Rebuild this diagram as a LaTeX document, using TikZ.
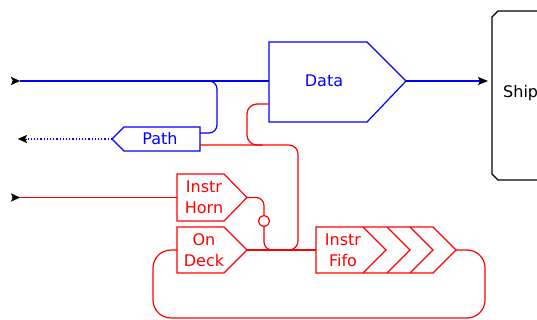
\documentclass[tikz,border=0pt]{standalone}
\usepackage{fontspec}
\setmainfont{DejaVu Sans}
\usetikzlibrary{arrows.meta}
\definecolor{wireblue}{RGB}{0,0,255}
\definecolor{wirered}{RGB}{255,0,0}
\tikzset{
  bus/.style={line width=1.2pt, draw=wireblue},
  ctl/.style={line width=1.2pt, draw=wirered},
  label/.style={font=\fontsize{16}{21}\selectfont, align=center, inner sep=0pt},
  outtip/.style={-{Stealth[length=10pt, width=8pt, inset=2pt, color=black]}},
  marker/.style={line width=0.1pt, -{Stealth[length=9pt, width=8pt, inset=2pt]}, black},
}
\begin{document}
\begin{tikzpicture}[x=1pt,y=-1pt]
            \useasboundingbox (0,0) rectangle (537,320);
            % blocks
            \draw[bus] (269,42) -- (367,42) -- (406,81) -- (367,122) -- (269,122) -- cycle;
            \node[label, text=wireblue] (data) at (324,81) {Data};
            \draw[line width=1.2pt] (545,11) -- (498,11) -- (492,17) -- (492,174) -- (498,180) -- (545,180);
            \node[label, anchor=base west] (ship) at (503,98) {Ship};
            \draw[bus] (200,127) -- (124,127) -- (112,139) -- (124,151) -- (200,151) -- cycle;
            \node[label, text=wireblue] (path) at (160,139) {Path};
            \draw[ctl] (177,174) -- (224,174) -- (247,197.5) -- (224,221) -- (177,221) -- cycle;
            \node[label, text=wirered] (horn) at (204,197.5) {Instr\\Horn};
            \draw[ctl] (177,227) -- (224,227) -- (247,250) -- (224,273) -- (177,273) -- cycle;
            \node[label, text=wirered] (deck) at (204,250) {On\\Deck};
            \draw[ctl] (316,227) -- (433,227) -- (456,250) -- (433,273) -- (316,273) -- cycle;
            \foreach \a in {363,387,410}
                \draw[ctl] (\a,227) -- (\a+23,250) -- (\a,273);
            \node[label, text=wirered] (fifo) at (343,250) {Instr\\Fifo};
            \node[circle, ctl, minimum size=11pt, inner sep=0pt] (bubble) at (264,221) {};

            % ports
            \coordinate (datain) at (269,81);
            \coordinate (dataret) at (269,104);
            \coordinate (dataout) at (406,81);
            \coordinate (shipin) at (488,81);
            \coordinate (pathin) at (200,133);
            \coordinate (pathret) at (200,145);
            \coordinate (pathout) at (112,139);
            \coordinate (hornin) at (177,197.5);
            \coordinate (hornout) at (247,197.5);
            \coordinate (deckin) at (177,250);
            \coordinate (deckout) at (247,250);
            \coordinate (fifoin) at (316,250);
            \coordinate (fifoout) at (456,250);
            \coordinate (busmark) at (12,81);
            \coordinate (busin) at (20,81);
            \coordinate (busout) at (27,139);
            \coordinate (busend) at (18,139);
            \coordinate (hornmark) at (12,197.5);
            \coordinate (hornsrc) at (20,197.5);
            \coordinate (split) at (195,81);

            % wires
            \draw[marker] (busmark) -- (busin);
            \draw[bus] (busin) -- (datain);
            \draw[bus, outtip] (dataout) -- (shipin);
            \draw[bus, rounded corners=8pt] (split) -- (217,81) -- (217,133) -- (pathin);
            \draw[bus, dotted] (pathout) -- (busout);
            \draw[marker] (busout) -- (busend);
            \draw[marker] (hornmark) -- (hornsrc);
            \draw[ctl] (hornsrc) -- (hornin);
            \draw[ctl, rounded corners=10pt] (dataret) -- (247,104) -- (247,145) -- (262,145);
            \draw[ctl, rounded corners=9pt] (pathret) -- (298,145) -- (298,250) -- (280,250);
            \draw[ctl, rounded corners=8pt] (hornout) -- (264,197.5) -- (bubble.north);
            \draw[ctl, rounded corners=8pt] (bubble.south) -- (264,250) -- (280,250);
            \draw[ctl] (deckout) -- (fifoin);
            \draw[ctl, rounded corners=18pt] (fifoout) -- (485,250) -- (485,318) -- (153,318) -- (153,250) -- (deckin);

        \end{tikzpicture}
\end{document}
